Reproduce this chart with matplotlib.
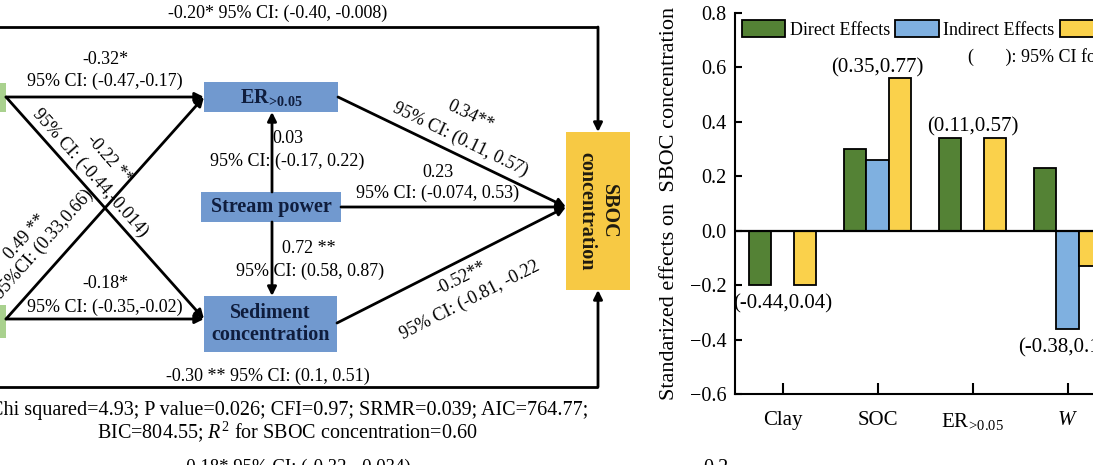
import numpy as np
import matplotlib.pyplot as plt

plt.rcParams['font.family'] = ['Liberation Serif', 'DejaVu Serif']
plt.rcParams['mathtext.fontset'] = 'custom'
plt.rcParams['mathtext.rm'] = 'Liberation Serif'
plt.rcParams['mathtext.it'] = 'Liberation Serif:italic'
plt.rcParams['mathtext.bf'] = 'Liberation Serif:bold'

# ---------------- bar chart data ----------------
factors = ['Clay', 'SOC', 'ER$_{\\!>\\!0.05}$', '$W$']
direct = [-0.20, 0.30, 0.34, 0.23]
indirect = [0.0, 0.26, 0.0, -0.36]
total = [-0.20, 0.56, 0.34, -0.13]
total_ci = ['(-0.44,0.04)', '(0.35,0.77)', '(0.11,0.57)', '(-0.38,0.12)']
effect_names = ['Direct Effects', 'Indirect Effects', 'Total Effects']

# ---------------- path diagram text ----------------
top_path = '-0.20* 95% CI: (-0.40, -0.008)'
bottom_path = '-0.30 ** 95% CI: (0.1, 0.51)'
clay_er = ['-0.32*', '95% CI: (-0.47,-0.17)']
soc_sed = ['-0.18*', '95% CI: (-0.35,-0.02)']
clay_sed = ['-0.22 **', '95% CI: (-0.44,-0.014)']
soc_er = ['0.49 **', '95%CI: (0.33,0.66)']
sp_er = ['0.03', '95% CI: (-0.17, 0.22)']
sp_sed = ['0.72 **', '95% CI: (0.58, 0.87)']
er_sboc = ['0.34**', '95% CI: (0.11, 0.57)']
sp_sboc = ['0.23', '95% CI: (-0.074, 0.53)']
sed_sboc = ['-0.52**', '95% CI: (-0.81, -0.22']
fit_stats = ['Chi squared=4.93; P value=0.026; CFI=0.97; SRMR=0.039; AIC=764.77;',
             'BIC=804.55; $R^2$ for SBOC concentration=0.60']
next_panel = '-0.18* 95% CI: (-0.32, -0.034)'

BLUE = '#7199cf'
GREEN = '#a9d18e'
GOLD = '#f7c944'
NAVY = '#0f1d3d'
FS = 13

fig = plt.figure(figsize=(10.93, 4.65), dpi=100)

# diagram axes in pixel coordinates (y down)
ax0 = fig.add_axes([0, 0, 1, 1])
ax0.set_xlim(0, 1093)
ax0.set_ylim(465, 0)
ax0.axis('off')


def box(x, y, w, h, color, label='', rot=0, tc=NAVY):
    ax0.add_patch(plt.Rectangle((x, y), w, h, facecolor=color, edgecolor='none'))
    if label:
        ax0.text(x + w / 2, y + h / 2, label, ha='center', va='center', rotation=rot,
                 fontsize=14.5, fontweight='bold', color=tc, linespacing=1.15)


def arrow(x0, y0, x1, y1):
    ax0.annotate('', xy=(x1, y1), xytext=(x0, y0),
                 arrowprops=dict(arrowstyle='-|>', color='k', lw=2, mutation_scale=13,
                                 shrinkA=0, shrinkB=0))


def label(x, y, s, rot=0, fs=FS, **kw):
    ax0.text(x, y, s, ha='center', va='center', rotation=rot, rotation_mode='anchor',
             fontsize=fs, **kw)


# boxes
box(-20, 83, 26, 29, GREEN)
box(-20, 305, 26, 33, GREEN)
box(204, 82, 134, 30, BLUE, 'ER$_{\\!\\mathbf{>}\\!\\mathbf{0.05}}$')
box(201, 192, 140, 30, BLUE, 'Stream power')
box(204, 296, 133, 56, BLUE, 'Sediment\nconcentration')
box(566, 132, 64, 158, GOLD, 'SBOC\nconcentration', rot=-90, tc='#1e1a10')

# arrows
arrow(6, 97, 204, 97)
arrow(6, 97, 204, 319)
arrow(6, 319, 204, 97)
arrow(6, 319, 204, 319)
arrow(272, 192, 272, 112)
arrow(272, 222, 272, 296)
arrow(338, 97, 566, 207)
arrow(341, 207, 566, 207)
arrow(337, 323, 566, 207)
ax0.plot([-5, 598], [27, 27], color='k', lw=2, solid_capstyle='butt')
arrow(598, 27, 598, 132)
ax0.plot([-5, 598], [387, 387], color='k', lw=2, solid_capstyle='butt')
arrow(598, 387, 598, 290)

# path labels
label(278, 13, top_path)
label(268, 376, bottom_path)
label(105, 60, clay_er[0]); label(105, 81, clay_er[1])
label(105, 283, soc_sed[0]); label(105, 307, soc_sed[1])
label(109, 159, clay_sed[0], -48.4); label(90, 173, clay_sed[1], -48.4)
label(25, 237, soc_er[0], 48.4); label(44, 244, soc_er[1], 48.4)
label(288, 138, sp_er[0]); label(287, 161, sp_er[1])
label(309, 248, sp_sed[0]); label(310, 271, sp_sed[1])
label(470, 116, er_sboc[0], -25.9); label(460, 140, er_sboc[1], -25.9)
label(438, 172, sp_sboc[0]); label(438, 193, sp_sboc[1])
label(461, 278, sed_sboc[0], 27); label(470, 300, sed_sboc[1], 27)
label(289, 410, fit_stats[0], fs=14.5)
label(287, 432, fit_stats[1], fs=14.5)
ax0.text(295, 459, next_panel, ha='center', va='top', fontsize=13.5)
ax0.text(716, 459, '0.2', ha='center', va='top', fontsize=14.5)

# ---------------- bar chart ----------------
ax = fig.add_axes([735 / 1093, 71 / 465, 475 / 1093, 381 / 465])
x = np.arange(len(factors))
w = 0.237
colors = ['#548235', '#7fb0e0', '#fad14b']
for k, (vals, c, name) in enumerate(zip([direct, indirect, total], colors, effect_names)):
    ax.bar(x + (k - 1) * w, vals, w, color=c, edgecolor='k', lw=1.3, label=name)
ax.axhline(0, color='k', lw=1.6)

for i in range(len(factors)):
    if total[i] >= 0:
        ty = total[i] + 0.04
    else:
        ty = min(direct[i], indirect[i], total[i]) - 0.07
    ax.text(x[i], ty, total_ci[i], ha='center', va='center', fontsize=15)

ax.set_xlim(-0.5, 4.5)
ax.set_ylim(-0.6, 0.8)
ax.set_yticks(np.arange(-0.6, 0.81, 0.2))
ax.yaxis.set_major_formatter(plt.FuncFormatter(lambda v, p: f'{v:.1f}'.replace('-', '\u2212')))
ax.set_xticks(x)
ax.set_xticklabels(factors, fontsize=15)
ax.tick_params(axis='y', direction='in', length=5, width=1.5, labelsize=14.5, pad=6)
ax.tick_params(axis='x', direction='in', length=8, width=1.5, pad=12)
for s in ['top', 'right']:
    ax.spines[s].set_visible(False)
for s in ['left', 'bottom']:
    ax.spines[s].set_linewidth(1.5)
ax.set_ylabel('Standarized effects on  SBOC concentration', fontsize=16)
ax.yaxis.set_label_coords(-0.118, 0.5)

ax.legend(loc='upper left', bbox_to_anchor=(0.0147, 0.9816), ncol=3, frameon=False,
          fontsize=13, handlelength=2.4, handleheight=1.05, handletextpad=0.25,
          columnspacing=0.3, borderaxespad=0, borderpad=0)
ax.text(0.4905, 0.8845, '(       ): 95% CI for total effects', transform=ax.transAxes,
        ha='left', va='center', fontsize=13)

fig.savefig('out.png', dpi=100)
